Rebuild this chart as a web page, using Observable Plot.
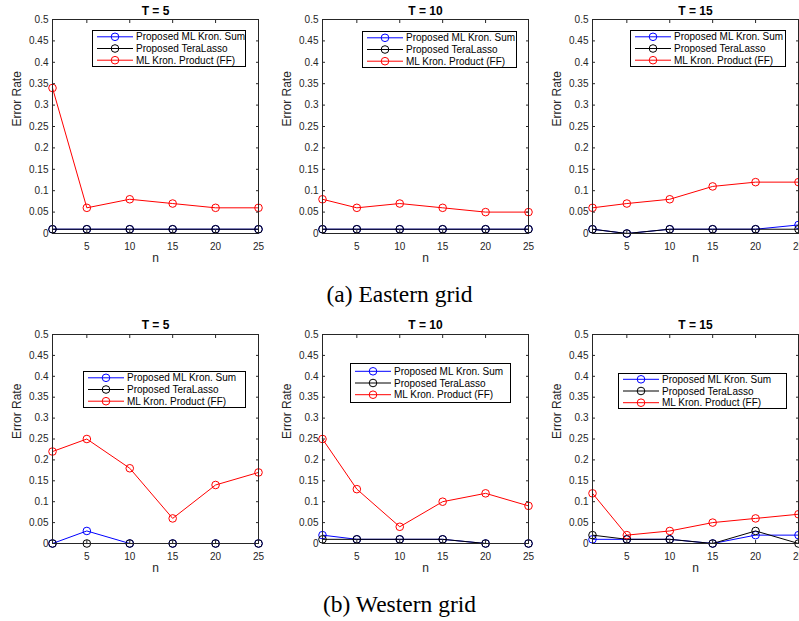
<!DOCTYPE html>
<html><head><meta charset="utf-8">
<script src="https://cdn.jsdelivr.net/npm/d3@7"></script>
<script src="https://cdn.jsdelivr.net/npm/@observablehq/plot@0.6"></script>
<style>
html,body{margin:0;padding:0;background:#fff;}
body{overflow:hidden;width:799px;height:621px;position:relative;font-family:"Liberation Sans",Arial,sans-serif;}
.panel{position:absolute;width:262px;height:268px;}
.panel svg{max-width:none !important;}
.caption{position:absolute;left:0;width:799px;text-align:center;font-family:"Liberation Serif","Times New Roman",serif;font-size:23.5px;line-height:28px;color:#000;}
.legend{position:absolute;}
</style></head><body>
<script>
// ---------- data ----------
const nValues = [1, 5, 10, 15, 20, 25];
const xTicks = [5, 10, 15, 20, 25];
const yTicks = [0, 0.05, 0.1, 0.15, 0.2, 0.25, 0.3, 0.35, 0.4, 0.45, 0.5];
const yTickLabels = ["0", "0.05", "0.1", "0.15", "0.2", "0.25", "0.3", "0.35", "0.4", "0.45", "0.5"];
const seriesNames = ["Proposed ML Kron. Sum", "Proposed TeraLasso", "ML Kron. Product (FF)"];
const seriesColors = ["#0000ff", "#000000", "#ff0000"];
const panelTitles = ["T = 5", "T = 10", "T = 15"];
const captions = ["(a) Eastern grid", "(b) Western grid"];
const xLabel = "n";
const yLabel = "Error Rate";

// Eastern grid
const eastT5Sum  = [0.01, 0.01, 0.01, 0.01, 0.01, 0.01];
const eastT5Tera = [0.01, 0.01, 0.01, 0.01, 0.01, 0.01];
const eastT5FF   = [0.34, 0.06, 0.08, 0.07, 0.06, 0.06];
const eastT10Sum  = [0.01, 0.01, 0.01, 0.01, 0.01, 0.01];
const eastT10Tera = [0.01, 0.01, 0.01, 0.01, 0.01, 0.01];
const eastT10FF   = [0.08, 0.06, 0.07, 0.06, 0.05, 0.05];
const eastT15Sum  = [0.01, 0.00, 0.01, 0.01, 0.01, 0.02];
const eastT15Tera = [0.01, 0.00, 0.01, 0.01, 0.01, 0.01];
const eastT15FF   = [0.06, 0.07, 0.08, 0.11, 0.12, 0.12];
// Western grid
const westT5Sum  = [0.00, 0.03, 0.00, 0.00, 0.00, 0.00];
const westT5Tera = [0.00, 0.00, 0.00, 0.00, 0.00, 0.00];
const westT5FF   = [0.22, 0.25, 0.18, 0.06, 0.14, 0.17];
const westT10Sum  = [0.02, 0.01, 0.01, 0.01, 0.00, 0.00];
const westT10Tera = [0.01, 0.01, 0.01, 0.01, 0.00, 0.00];
const westT10FF   = [0.25, 0.13, 0.04, 0.10, 0.12, 0.09];
const westT15Sum  = [0.01, 0.01, 0.01, 0.00, 0.02, 0.02];
const westT15Tera = [0.02, 0.01, 0.01, 0.00, 0.03, 0.00];
const westT15FF   = [0.12, 0.02, 0.03, 0.05, 0.06, 0.07];

const panelSeries = [
  [eastT5Sum, eastT5Tera, eastT5FF],
  [eastT10Sum, eastT10Tera, eastT10FF],
  [eastT15Sum, eastT15Tera, eastT15FF],
  [westT5Sum, westT5Tera, westT5FF],
  [westT10Sum, westT10Tera, westT10FF],
  [westT15Sum, westT15Tera, westT15FF]
];

// ---------- layout ----------
const colLeft = [0, 270, 540];
const rowTop = [0, 310];
const rowMarginTop = [19, 24];
const titleDy = [-8, -9];
const captionTop = [280, 590];
// legend boxes (page px): left, top, width, height
const legendBoxes = [
  [92, 30, 154, 37], [362, 31, 155, 37], [630, 30, 156, 37],
  [83, 371, 163, 37], [350, 363, 161, 40], [618, 373, 169, 36]
];

const axisColor = "#262626";

panelSeries.forEach((series, p) => {
  const row = Math.floor(p / 3), col = p % 3;
  const marks = [];
  series.forEach((vals, s) => {
    const data = nValues.map((n, i) => ({n, v: vals[i]}));
    marks.push(Plot.line(data, {x: "n", y: "v", stroke: seriesColors[s], strokeWidth: 1}));
    marks.push(Plot.dot(data, {x: "n", y: "v", r: 3.8, stroke: seriesColors[s], fill: "none", strokeWidth: 1}));
  });
  marks.push(Plot.frame({stroke: axisColor, strokeWidth: 1}));
  marks.push(Plot.axisY({ticks: yTicks, tickSize: -3, tickPadding: 7, tickFormat: d => yTickLabels[yTicks.indexOf(d)], label: null, stroke: axisColor, fill: axisColor}));
  marks.push(Plot.axisY({anchor: "right", ticks: yTicks, tickSize: -3, tickFormat: () => "", label: null, stroke: axisColor}));
  marks.push(Plot.axisX({ticks: xTicks, tickSize: -3, tickPadding: 12, tickFormat: d => String(d), label: null, stroke: axisColor, fill: axisColor}));
  marks.push(Plot.axisX({anchor: "top", ticks: xTicks, tickSize: -3, tickFormat: () => "", label: null, stroke: axisColor}));
  marks.push(Plot.text([panelTitles[col]], {frameAnchor: "top", text: d => d, dy: titleDy[row], fontWeight: "bold", fontSize: 12, fill: "#000", lineAnchor: "middle"}));
  marks.push(Plot.text([xLabel], {frameAnchor: "bottom", text: d => d, dy: 25, fontSize: 12, fill: axisColor, lineAnchor: "middle"}));
  marks.push(Plot.text([yLabel], {frameAnchor: "left", text: d => d, dx: -35, rotate: -90, fontSize: 12, fill: axisColor, lineAnchor: "middle"}));

  const chart = Plot.plot({
    width: 262,
    height: 268,
    marginLeft: 52,
    marginRight: 4,
    marginTop: rowMarginTop[row],
    marginBottom: 35,
    x: {domain: [1, 25]},
    y: {domain: [0, 0.5]},
    style: {fontFamily: '"Liberation Sans", Arial, sans-serif', fontSize: "10px", background: "transparent", color: axisColor, overflow: "visible", maxWidth: "none"},
    marks
  });
  const wrap = document.createElement("div");
  wrap.className = "panel";
  wrap.style.left = colLeft[col] + "px";
  wrap.style.top = rowTop[row] + "px";
  wrap.appendChild(chart);
  document.body.appendChild(wrap);

  // legend
  const [lx, ly, lw, lh] = legendBoxes[p];
  const svg = d3.create("svg").attr("class", "legend").attr("width", lw).attr("height", lh)
    .style("left", lx + "px").style("top", ly + "px")
    .style("font-family", '"Liberation Sans", Arial, sans-serif').style("font-size", "10px");
  svg.append("rect").attr("x", 0.5).attr("y", 0.5).attr("width", lw - 1).attr("height", lh - 1)
    .attr("fill", "#fff").attr("stroke", "#000").attr("stroke-width", 1);
  seriesNames.forEach((name, s) => {
    const cy = lh / 2 + (s - 1) * 11.7;
    svg.append("line").attr("x1", 5).attr("x2", 41).attr("y1", cy).attr("y2", cy)
      .attr("stroke", seriesColors[s]).attr("stroke-width", 1);
    svg.append("circle").attr("cx", 23).attr("cy", cy).attr("r", 3.8)
      .attr("fill", "none").attr("stroke", seriesColors[s]).attr("stroke-width", 1);
    svg.append("text").attr("x", 44).attr("y", cy).attr("dy", "0.35em").attr("fill", "#000").text(name);
  });
  document.body.appendChild(svg.node());
});

captions.forEach((c, i) => {
  const d = document.createElement("div");
  d.className = "caption";
  d.style.top = captionTop[i] + "px";
  d.textContent = c;
  document.body.appendChild(d);
});
</script>
</body></html>
